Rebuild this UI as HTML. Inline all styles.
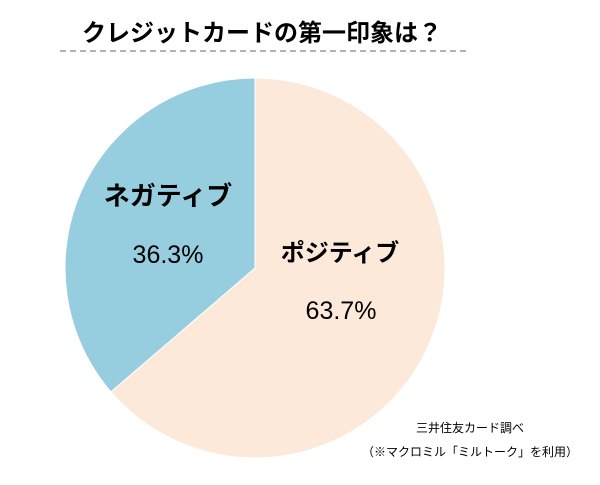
<!DOCTYPE html>
<html><head><meta charset="utf-8"><style>
body{margin:0;background:#fff;width:600px;height:480px;overflow:hidden}
svg text{font-family:"Liberation Sans","Noto Sans CJK JP",sans-serif}
</style></head><body>
<svg width="600" height="480" viewBox="0 0 600 480">
<text x="262" y="41" text-anchor="middle" font-size="24" font-weight="bold" fill="#000">クレジットカードの第一印象は？</text>
<line x1="60" y1="51" x2="470" y2="51" stroke="#999" stroke-width="1.5" stroke-dasharray="6,4"/>
<g id="slices"></g>
<text x="168" y="205" text-anchor="middle" font-size="26" font-weight="bold">ネガティブ</text>
<text x="168" y="263" text-anchor="middle" font-size="25">36.3%</text>
<text x="340" y="261" text-anchor="middle" font-size="24" font-weight="bold">ポジティブ</text>
<text x="341" y="319" text-anchor="middle" font-size="25">63.7%</text>
<text x="470" y="432" text-anchor="middle" font-size="12">三井住友カード調べ</text>
<text x="470" y="456" text-anchor="middle" font-size="12">（※マクロミル「ミルトーク」を利用）</text>
</svg>
<script>
const categories=["ポジティブ","ネガティブ"];
const values=[63.7,36.3];
const colors=["#FDE9D9","#96CDDF"];
const cx=255,cy=268,r=190;
const g=document.getElementById('slices');
const total=values.reduce((a,b)=>a+b,0);
let start=0;
values.forEach((v,i)=>{
  const a0=start/total*2*Math.PI, a1=(start+v)/total*2*Math.PI;
  start+=v;
  const x0=cx+r*Math.sin(a0),y0=cy-r*Math.cos(a0),x1=cx+r*Math.sin(a1),y1=cy-r*Math.cos(a1);
  const p=document.createElementNS('http://www.w3.org/2000/svg','path');
  p.setAttribute('d',`M${cx},${cy}L${x0},${y0}A${r},${r} 0 ${a1-a0>Math.PI?1:0} 1 ${x1},${y1}Z`);
  p.setAttribute('fill',colors[i]);
  p.setAttribute('stroke','#fff');
  p.setAttribute('stroke-width','1');
  
  
  g.appendChild(p);
});
</script>
</body></html>
